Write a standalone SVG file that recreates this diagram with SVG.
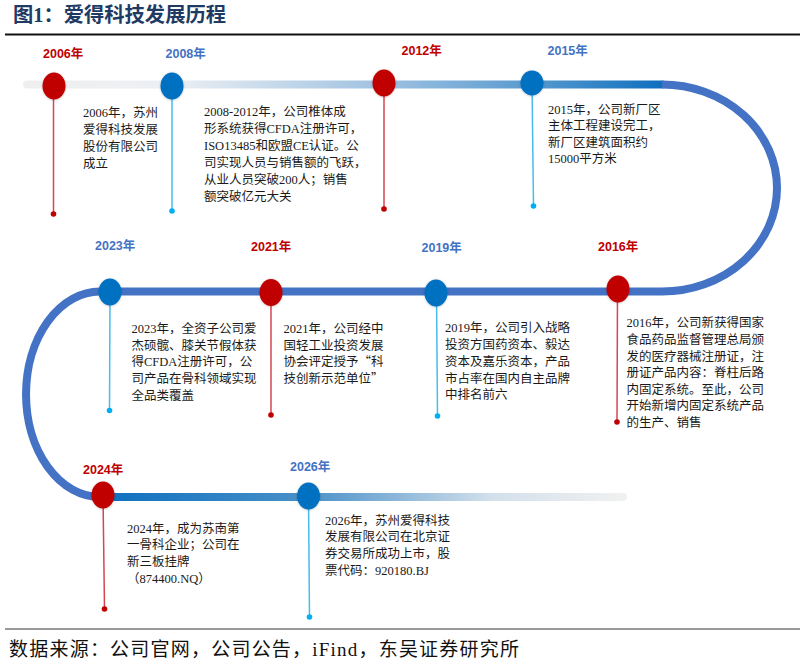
<svg xmlns="http://www.w3.org/2000/svg" width="804" height="664" viewBox="0 0 804 664">
<defs>
<style>
.title{font-family:"Liberation Serif","Noto Sans CJK SC",serif;font-size:20px;font-weight:bold;fill:#1F3B63}
.yr{font-family:"Liberation Sans","Noto Sans CJK SC",sans-serif;font-size:12.5px;font-weight:bold}
.red{fill:#C00000}
.blu{fill:#4472C4}
.txt{font-family:"Liberation Serif","Noto Sans CJK SC",serif;font-size:12.5px;fill:#1a1a1a}
.cjk{font-family:"Noto Sans CJK SC",sans-serif}
.foot{font-family:"Liberation Serif","Noto Sans CJK SC",serif;font-size:19px;fill:#111}
.track{fill:none;stroke-width:8}
.pinR{stroke:#D64550;stroke-width:1.5}
.pinB{stroke:#45BDF0;stroke-width:1.5}
.dotR{fill:#C00000}
.dotB{fill:#00B0F0}
.cR{fill:#C00000;filter:url(#sh)}
.cB{fill:#0070C0;filter:url(#sh)}
</style>
<filter id="sh" x="-50%" y="-50%" width="200%" height="200%">
<feDropShadow dx="0" dy="0.5" stdDeviation="1.2" flood-color="#000" flood-opacity="0.25"/>
</filter>
<linearGradient id="gTop" gradientUnits="userSpaceOnUse" x1="27" y1="0" x2="662" y2="0">
<stop offset="0" stop-color="#EFEFEF"/>
<stop offset="0.22" stop-color="#EDF0F4"/>
<stop offset="0.56" stop-color="#9FC2E1"/>
<stop offset="0.79" stop-color="#5A9BD0"/>
<stop offset="1" stop-color="#0F6FBE"/>
</linearGradient>
<linearGradient id="gBot" gradientUnits="userSpaceOnUse" x1="97" y1="0" x2="623" y2="0">
<stop offset="0" stop-color="#0B6FBF"/>
<stop offset="0.4" stop-color="#4A90C8"/>
<stop offset="0.75" stop-color="#D3E0EC"/>
<stop offset="1" stop-color="#F0F0F0"/>
</linearGradient>
</defs>
<rect width="804" height="664" fill="#fff"/>

<text class="title" x="13" y="22" textLength="213" lengthAdjust="spacingAndGlyphs">图1：爱得科技发展历程</text>
<line x1="5" y1="34.5" x2="800" y2="34.5" stroke="#111" stroke-width="2.2"/>

<g id="connectors">
<line class="track" x1="27" y1="84.5" x2="662" y2="84.5" stroke="url(#gTop)" stroke-linecap="round"/>
<path class="track" d="M662 84.5 A115 103.5 0 0 1 662 291.5 L100 291.5 A74 102.75 0 0 0 100 497" stroke="#4472C4"/>
<line class="track" x1="97" y1="497" x2="623" y2="497" stroke="url(#gBot)" stroke-linecap="round"/>
</g>

<g id="node-2006">
<line class="pinR" x1="53.5" y1="86" x2="53.5" y2="214"/>
<circle class="dotR" cx="53.5" cy="214" r="2.8"/>
<ellipse class="cR" cx="54" cy="86" rx="11.5" ry="13.5"/>
<text class="yr red" x="43" y="57.5">2006年</text>
<text class="txt" x="83" y="117.4">2006年，苏州</text>
<text class="txt" x="83" y="134.4">爱得科技发展</text>
<text class="txt" x="83" y="151.4">股份有限公司</text>
<text class="txt" x="83" y="168.4">成立</text>
</g>

<g id="node-2008">
<line class="pinB" x1="172" y1="86" x2="172" y2="211"/>
<circle class="dotB" cx="172" cy="211" r="2.8"/>
<ellipse class="cB" cx="172" cy="86" rx="11.5" ry="13.5"/>
<text class="yr blu" x="165.5" y="57.5">2008年</text>
<text class="txt" x="204" y="116.4">2008-2012年，公司椎体成</text>
<text class="txt" x="204" y="133.4">形系统获得CFDA注册许可，</text>
<text class="txt" x="204" y="150.4">ISO13485和欧盟CE认证。公</text>
<text class="txt" x="204" y="167.4">司实现人员与销售额的飞跃，</text>
<text class="txt" x="204" y="184.4">从业人员突破200人；销售</text>
<text class="txt" x="204" y="201.4">额突破亿元大关</text>
</g>

<g id="node-2012">
<line class="pinR" x1="384" y1="83" x2="384" y2="209"/>
<circle class="dotR" cx="384" cy="209" r="2.8"/>
<ellipse class="cR" cx="384" cy="83" rx="11.5" ry="13.5"/>
<text class="yr red" x="401.5" y="54.5">2012年</text>
</g>

<g id="node-2015">
<line class="pinB" x1="532" y1="83" x2="533.5" y2="206"/>
<circle class="dotB" cx="533.5" cy="206" r="2.8"/>
<ellipse class="cB" cx="532" cy="83" rx="11.5" ry="12.5"/>
<text class="yr blu" x="547.5" y="55">2015年</text>
<text class="txt" x="548" y="113.7">2015年，公司新厂区</text>
<text class="txt" x="548" y="130.2">主体工程建设完工，</text>
<text class="txt" x="548" y="146.7">新厂区建筑面积约</text>
<text class="txt" x="548" y="163.2">15000平方米</text>
</g>

<g id="node-2016">
<line class="pinR" x1="617.5" y1="289" x2="617" y2="422"/>
<circle class="dotR" cx="617" cy="422" r="2.8"/>
<ellipse class="cR" cx="618" cy="289" rx="11.5" ry="13.5"/>
<text class="yr red" x="598" y="251">2016年</text>
<text class="txt" x="626.5" y="327.4">2016年，公司新获得国家</text>
<text class="txt" x="626.5" y="344">食品药品监督管理总局颁</text>
<text class="txt" x="626.5" y="360.6">发的医疗器械注册证，注</text>
<text class="txt" x="626.5" y="377.2">册证产品内容：脊柱后路</text>
<text class="txt" x="626.5" y="393.8">内固定系统。至此，公司</text>
<text class="txt" x="626.5" y="410.4">开始新增内固定系统产品</text>
<text class="txt" x="626.5" y="427">的生产、销售</text>
</g>

<g id="node-2019">
<line class="pinB" x1="436.5" y1="293" x2="437.5" y2="416"/>
<circle class="dotB" cx="437.5" cy="416" r="2.8"/>
<ellipse class="cB" cx="436" cy="293" rx="11.5" ry="13.5"/>
<text class="yr blu" x="421.5" y="251.5">2019年</text>
<text class="txt" x="445" y="332.4">2019年，公司引入战略</text>
<text class="txt" x="445" y="349.1">投资方国药资本、毅达</text>
<text class="txt" x="445" y="365.8">资本及嘉乐资本，产品</text>
<text class="txt" x="445" y="382.5">市占率在国内自主品牌</text>
<text class="txt" x="445" y="399.2">中排名前六</text>
</g>

<g id="node-2021">
<line class="pinR" x1="271" y1="292.5" x2="271" y2="415"/>
<circle class="dotR" cx="271" cy="415" r="2.8"/>
<ellipse class="cR" cx="271" cy="292.5" rx="11.5" ry="13.5"/>
<text class="yr red" x="251" y="250.5">2021年</text>
<text class="txt" x="283.5" y="333">2021年，公司经中</text>
<text class="txt" x="283.5" y="349.7">国轻工业投资发展</text>
<text class="txt" x="283.5" y="366.4">协会评定授予<tspan class="cjk">“</tspan>科</text>
<text class="txt" x="283.5" y="383.1">技创新示范单位<tspan class="cjk">”</tspan></text>
</g>

<g id="node-2023">
<line class="pinB" x1="110" y1="292" x2="109.5" y2="410.5"/>
<circle class="dotB" cx="109.5" cy="410.5" r="2.8"/>
<ellipse class="cB" cx="110" cy="292" rx="11.5" ry="13.5"/>
<text class="yr blu" x="95" y="249.5">2023年</text>
<text class="txt" x="131.5" y="333">2023年，全资子公司爱</text>
<text class="txt" x="131.5" y="349.7">杰硕髋、膝关节假体获</text>
<text class="txt" x="131.5" y="366.4">得CFDA注册许可，公</text>
<text class="txt" x="131.5" y="383.1">司产品在骨科领域实现</text>
<text class="txt" x="131.5" y="399.8">全品类覆盖</text>
</g>

<g id="node-2024">
<line class="pinR" x1="103" y1="495" x2="104.5" y2="609"/>
<circle class="dotR" cx="104.5" cy="609" r="2.8"/>
<ellipse class="cR" cx="103" cy="495" rx="11.5" ry="13.5"/>
<text class="yr red" x="83" y="473.5">2024年</text>
<text class="txt" x="127" y="532.7">2024年，成为苏南第</text>
<text class="txt" x="127" y="549.4">一骨科企业；公司在</text>
<text class="txt" x="127" y="566.1">新三板挂牌</text>
<text class="txt" x="127" y="582.8">（874400.NQ）</text>
</g>

<g id="node-2026">
<line class="pinB" x1="308.5" y1="496" x2="309.5" y2="617"/>
<circle class="dotB" cx="309.5" cy="617" r="2.8"/>
<ellipse class="cB" cx="308.5" cy="496" rx="11.5" ry="13.5"/>
<text class="yr blu" x="290" y="470.5">2026年</text>
<text class="txt" x="325" y="524.7">2026年，苏州爱得科技</text>
<text class="txt" x="325" y="541.4">发展有限公司在北京证</text>
<text class="txt" x="325" y="558.1">券交易所成功上市，股</text>
<text class="txt" x="325" y="574.8">票代码：920180.BJ</text>
</g>

<line x1="5" y1="629" x2="800" y2="629" stroke="#777" stroke-width="1.6"/>
<text class="foot" x="9" y="656" textLength="510" lengthAdjust="spacing">数据来源：公司官网，公司公告，iFind，东吴证券研究所</text>
</svg>
